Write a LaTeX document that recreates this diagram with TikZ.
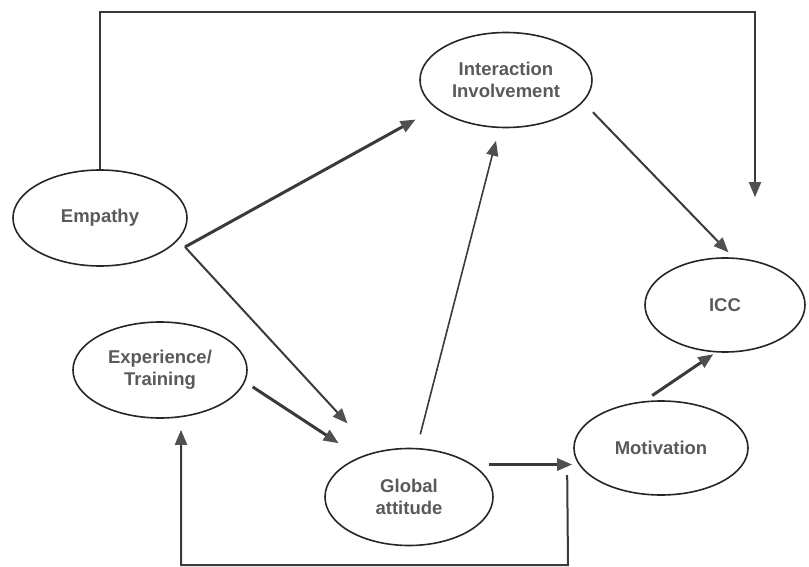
\documentclass[tikz,border=0pt]{standalone}
\usepackage{fontspec}
\setmainfont{Liberation Sans}
\usetikzlibrary{shapes.geometric,arrows.meta}
\definecolor{txtgray}{HTML}{5A5A5A}
\definecolor{linegray}{HTML}{3A3A3A}
\definecolor{headgray}{HTML}{505050}

\begin{document}
\begin{tikzpicture}[x=1pt,y=-1pt,
    bubble/.style={ellipse,draw=black!85,line width=1.6pt,inner sep=0pt,align=center,
      text=txtgray,font=\fontsize{18.5}{22}\selectfont\bfseries},
    arr/.style={draw=linegray,line width=2pt,-{Triangle[length=15pt,width=12pt,color=headgray]}},
    heavy/.style={arr,line width=3pt}]
    \useasboundingbox (0,0) rectangle (809,567);
    \node[bubble,minimum width=172pt,minimum height=95pt] (inter) at (506,80) {Interaction\\Involvement};
    \node[bubble,minimum width=174pt,minimum height=96pt] (empathy) at (100,218) {Empathy};
    \node[bubble,minimum width=160pt,minimum height=94pt] (icc) at (725,305) {ICC};
    \node[bubble,minimum width=174pt,minimum height=96pt] (exper) at (160,370) {Experience/\\Training};
    \node[bubble,minimum width=168pt,minimum height=97pt] (glob) at (409,497) {Global\\attitude};
    \node[bubble,minimum width=174pt,minimum height=94pt] (motiv) at (661,448) {Motivation};
    %
    \coordinate (fork) at (185,247);
    \coordinate (corner) at (755,12);
    \coordinate (fb) at ([shift={(-6,27)}]motiv.west);
    \coordinate (fbdown) at (568,565);
    %
    \draw[heavy,shorten >=23pt] (fork) -- (inter.202);
    \draw[arr,shorten >=39pt] (fork) -- (glob.128);
    \draw[arr,line width=1.6pt,shorten <=14pt,shorten >=13pt] (glob.81) -- (inter.262);
    \draw[arr,shorten <=14pt,shorten >=7pt] (inter.-16) -- (icc.80);
    \draw[arr,shorten >=60pt] (empathy.north) |- (corner) -- (corner |- icc.north);
    %
    \draw[heavy,shorten <=9pt,shorten >=25pt] (exper.-8) -- (glob.141);
    \draw[heavy,shorten <=16pt,shorten >=1pt] (glob.27) -- (glob.27 -| motiv.west);
    \draw[heavy,shorten <=10pt,shorten >=3pt] (motiv.110) -- (icc.259);
    \draw[arr,shorten >=11pt] (fb) -- (fbdown) -| ([xshift=21pt]exper.south);
\end{tikzpicture}
\end{document}
